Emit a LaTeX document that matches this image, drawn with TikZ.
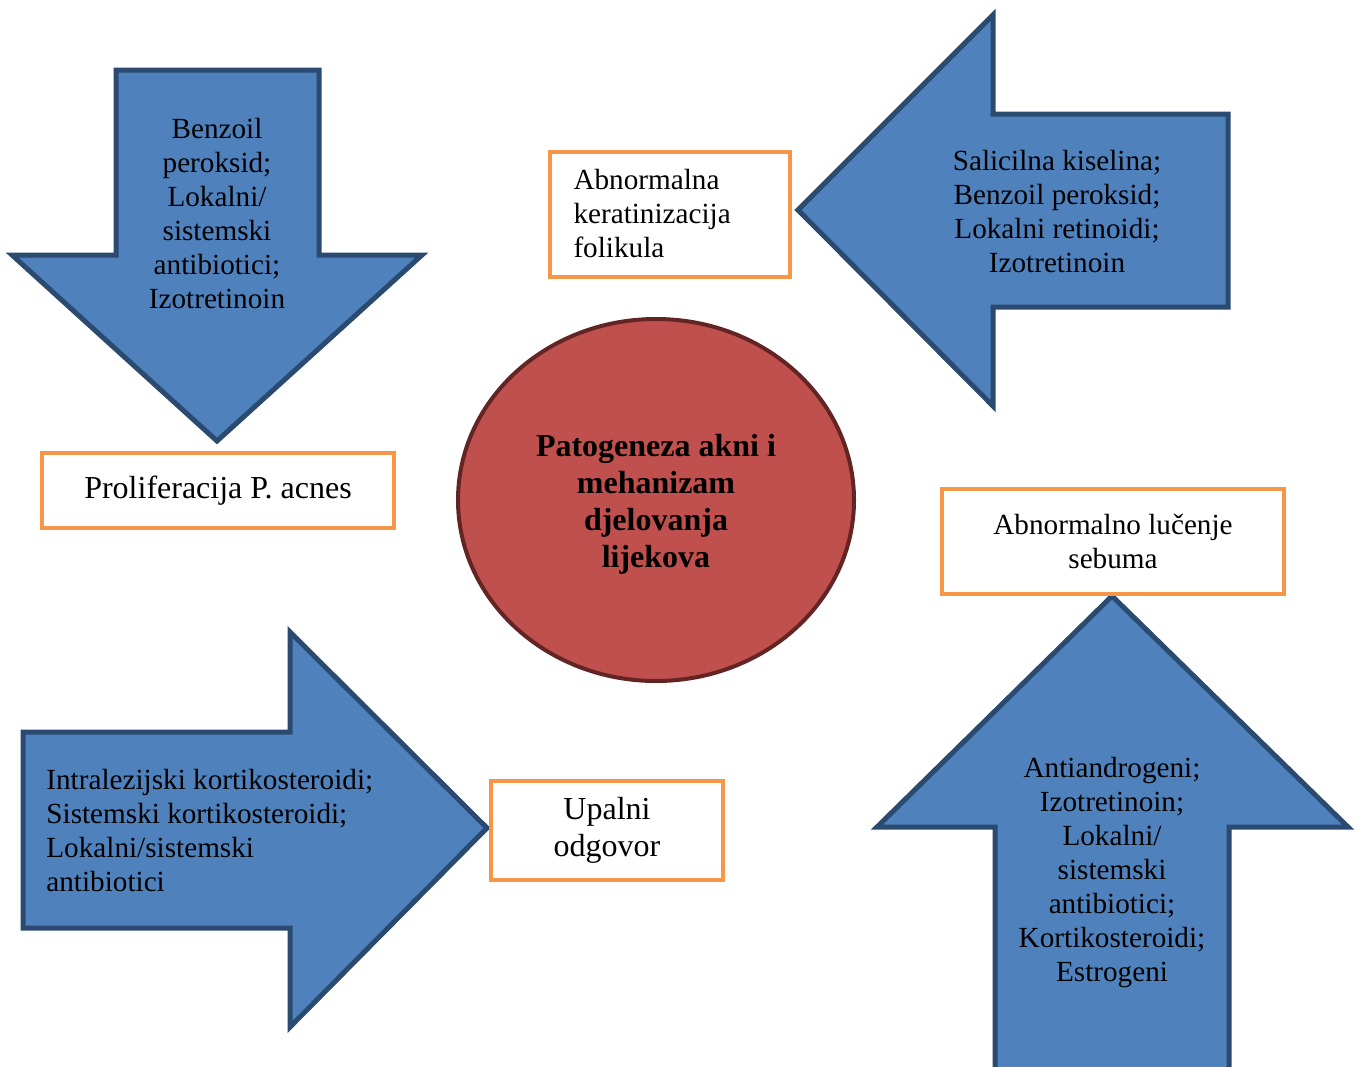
\documentclass[tikz,border=0pt]{standalone}
\usepackage{fontspec}
\setmainfont{Liberation Serif}
\usetikzlibrary{shapes.geometric}
\definecolor{arrowfill}{HTML}{4F81BD}
\definecolor{arrowline}{HTML}{2A4A70}
\definecolor{boxline}{HTML}{F79646}
\definecolor{corefill}{HTML}{C0504D}
\definecolor{coreline}{HTML}{632523}
\tikzset{
  arrowshape/.style={fill=arrowfill, draw=arrowline, line width=2.5pt, line join=miter},
  drugtext/.style={font=\fontsize{14.6}{17}\selectfont, align=center, inner sep=0pt},
  causebox/.style={draw=boxline, line width=2pt, fill=white, font=\fontsize{14.6}{17}\selectfont,
    align=center, inner sep=0pt},
  bigbox/.style={causebox, font=\fontsize{16}{18.5}\selectfont}
}
\begin{document}
\begin{tikzpicture}[x=0.5pt,y=-0.5pt]
\useasboundingbox (0,0) rectangle (1359,1066);
\clip (0,0) rectangle (1359,1066);

\draw[arrowshape] (116,70) -- (319,70) -- (319,255) -- (422,255) -- (217,441)
  -- (12,255) -- (116,255) -- cycle;
\draw[arrowshape] (1228,114) -- (1228,307) -- (993,307) -- (993,406) -- (798,210)
  -- (993,15) -- (993,114) -- cycle;
\draw[arrowshape] (23,732) -- (290,732) -- (290,632) -- (487,828) -- (290,1027)
  -- (290,928) -- (23,928) -- cycle;
\draw[arrowshape] (995,1080) -- (995,827) -- (877,827) -- (1112,596) -- (1348,827)
  -- (1229,827) -- (1229,1080);

\node[drugtext] (bpo) at (217,214) {Benzoil\\peroksid;\\Lokalni/\\sistemski\\antibiotici;\\Izotretinoin};
\node[drugtext] (keratolitici) at (1057,212) {Salicilna kiselina;\\Benzoil peroksid;\\Lokalni retinoidi;\\Izotretinoin};
\node[drugtext, align=left, anchor=west] (protuupalni) at (46,830) {Intralezijski kortikosteroidi;\\Sistemski kortikosteroidi;\\Lokalni/sistemski\\antibiotici};
\node[drugtext] (hormonski) at (1112,873) {Antiandrogeni;\\Izotretinoin;\\Lokalni/\\sistemski\\antibiotici;\\Kortikosteroidi;\\Estrogeni};

\node[causebox, align=left, text width=96pt, minimum height=62.5pt, inner xsep=12pt] (keratinizacija) at (669.5,214) {Abnormalna\\keratinizacija\\folikula};
\node[bigbox, minimum width=176pt, minimum height=37.5pt] (proliferacija) at (218,490.5) {Proliferacija P. acnes};
\node[causebox, minimum width=171pt, minimum height=52.5pt] (sebum) at (1113,541.5) {Abnormalno lučenje\\sebuma};
\node[bigbox, minimum width=116pt, minimum height=49.5pt] (upala) at (607,830) {Upalni\\odgovor};

\node[ellipse, fill=corefill, draw=coreline, line width=2pt, minimum width=198pt, minimum height=181pt] (patogeneza) at (656,500) {};
\node[font=\bfseries\fontsize{16}{18.5}\selectfont, align=center, inner sep=0pt] (naslov) at (656,504)
  {Patogeneza akni i\\mehanizam\\djelovanja\\lijekova};

\end{tikzpicture}
\end{document}
